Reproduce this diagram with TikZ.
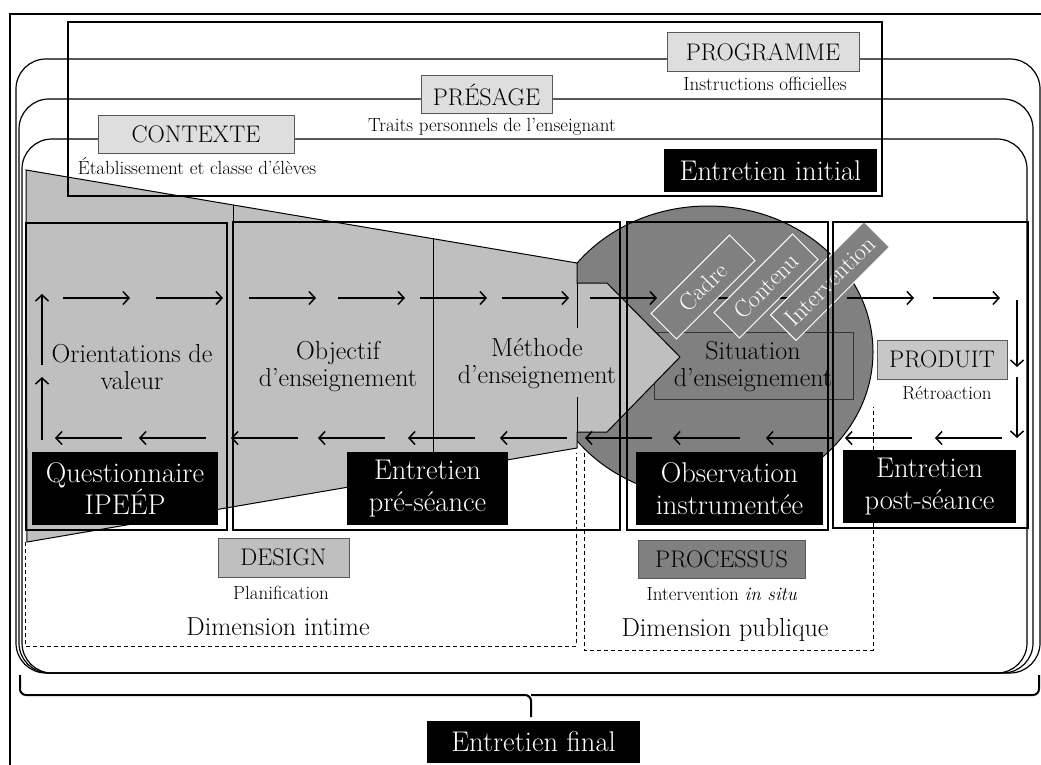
\documentclass[tikz,border=0pt]{standalone}
\usepackage{fontspec}
\usetikzlibrary{arrows.meta}
\newcommand\taille[2]{\fontsize{#1}{#2}\selectfont}
\definecolor{grisclair}{gray}{0.75}
\definecolor{grisfonce}{gray}{0.5}
\definecolor{grisetiq}{gray}{0.87}
\definecolor{grismoyen}{gray}{0.78}
\begin{document}
\begin{tikzpicture}
	[x=1pt,y=-1pt,
	noir/.style={fill=black,text=white,inner sep=0pt,align=center,font=\taille{28.5}{32}},
	etiq/.style={draw=black!65,line width=1pt,fill=grisetiq,inner sep=0pt,font=\taille{24}{28}},
	sous/.style={inner sep=0pt,font=\taille{19}{22}},
	flux/.style={inner sep=0pt,align=center,font=\taille{26}{27}},
	facette/.style={draw=white,line width=1pt,fill=grisfonce,text=white,rotate=45,inner sep=0pt,minimum height=36pt,font=\taille{24}{26}},
	bloc/.style={line width=2.4pt},
	fleche/.style={line width=1.5pt,-{Straight Barb[length=6pt,width=13pt]}},
	pointille/.style={line width=1pt,dash pattern=on 4pt off 3pt},
	]
	\useasboundingbox (0,0) rectangle (1041,765);
	\draw[line width=2pt] (1041,14) -- (10,14) -- (10,765);

	% programme, presage, contexte
	\draw[line width=1.2pt,rounded corners=30pt] (16,59) rectangle (1040,673);
	\draw[line width=1.2pt,rounded corners=30pt] (19,99) rectangle (1033,673);
	\draw[line width=1.2pt,rounded corners=30pt] (22,139) rectangle (1027,673);

	\filldraw[fill=grisfonce,draw=black,line width=1pt] (708,352) ellipse [x radius=165pt,y radius=146pt];
	\draw[line width=1pt,black!80] (654,332) rectangle (853,399);
	\filldraw[fill=grisclair,draw=black,line width=1pt] (26,170) -- (577,263) -- (577,283) -- (607,283)
		-- (680,357) -- (607,432) -- (577,432) -- (577,448) -- (27,542) -- cycle;
	\draw[line width=2.4pt] (68,22) rectangle (882,196);

	\foreach \xa in {63,156,249,338,420,502,590,680,765,847,933}
		\draw[fleche] (\xa,298) -- ++(67,0);
	\foreach \xa in {122,206,298,385,475,567,652,740,833,912,1002}
		\draw[fleche] (\xa,438) -- ++(-67,0);
	\draw[fleche] (42,440) -- (42,377);
	\draw[fleche] (42,365) -- (42,294);
	\draw[fleche] (1017,300) -- (1017,367);
	\draw[fleche] (1017,377) -- (1017,438);

	\node[facette,minimum width=111pt] (fcadre) at (703,287) {Cadre};
	\node[facette,minimum width=111pt] (fcontenu) at (766,286) {Contenu};
	\node[facette,minimum width=132pt] (fintervention) at (830,281) {Intervention};

	\draw[bloc] (26,223) rectangle (227,530);
	\draw[bloc] (233,222) rectangle (620,530);
	\draw[bloc] (627,222) rectangle (828,530);
	\draw[bloc] (833,222) rectangle (1028,528);
	\draw[line width=1pt] (233,205) -- (233,222);
	\draw[line width=1pt] (433,239) -- (433,452);
	\draw[line width=1pt] (577,283) -- (577,328) (577,397) -- (577,432);

	\draw[pointille] (25,542) -- (25,646) -- (576,646) -- (576,453);
	\draw[pointille] (584,453) -- (584,650) -- (873,650) -- (873,407);

	\node[flux] (valeur) at (132,367) {Orientations de\\valeur};
	\node[flux] (objectif) at (338,367) {Objectif\\d’enseignement};
	\node[flux] (methode) at (537,364) {Méthode\\d’enseignement};
	\node[flux] (situation) at (753,367) {Situation\\d’enseignement};

	\node[etiq,minimum width=192pt,minimum height=39pt] (programme) at (763,52.5) {PROGRAMME};
	\node[sous] (instructions) at (765,84) {Instructions officielles};
	\node[etiq,minimum width=131pt,minimum height=38pt] (presage) at (486.5,95) {PRÉSAGE};
	\node[sous] (traits) at (492,127) {Traits personnels de l’enseignant};
	\node[etiq,minimum width=196pt,minimum height=37pt] (contexte) at (196,134.5) {CONTEXTE};
	\node[sous] (etablissement) at (197,166) {Établissement et classe d’élèves};
	\node[etiq,fill=grismoyen,minimum width=130pt,minimum height=39pt] (produit) at (942,359.5) {PRODUIT};
	\node[sous] (retroaction) at (947,393) {Rétroaction};
	\node[etiq,fill=grisclair,minimum width=131pt,minimum height=39pt] (design) at (283.5,557.5) {DESIGN};
	\node[sous] (planification) at (281,593) {Planification};
	\node[etiq,fill=grisfonce,minimum width=167pt,minimum height=38pt] (processus) at (721.5,559) {PROCESSUS};
	\node[sous] (insitu) at (722,594) {Intervention \emph{in situ}};
	\node[flux] (intime) at (278,627) {Dimension intime};
	\node[flux] (publique) at (725,630) {Dimension publique};

	\node[noir,minimum width=213pt,minimum height=43pt] (initial) at (770.5,170.5) {Entretien initial};
	\node[noir,minimum width=186pt,minimum height=73pt] (ipeep) at (125,488.5) {Questionnaire\\IPEÉP};
	\node[noir,minimum width=161pt,minimum height=73pt] (pre) at (427.5,488.5) {Entretien\\pré-séance};
	\node[noir,minimum width=187pt,minimum height=73pt] (obs) at (729.5,488.5) {Observation\\instrumentée};
	\node[noir,minimum width=173pt,minimum height=73pt] (post) at (929.5,486.5) {Entretien\\post-séance};

	% accolade
	\draw[line width=2pt,rounded corners=6pt] (20,675) -- (20,695) -- (531,695) -- (531,717);
	\draw[line width=2pt,rounded corners=6pt] (1039,675) -- (1039,695) -- (531,695);
	\node[noir,minimum width=213pt,minimum height=42pt] (final) at (533.5,742) {Entretien final};
\end{tikzpicture}
\end{document}
